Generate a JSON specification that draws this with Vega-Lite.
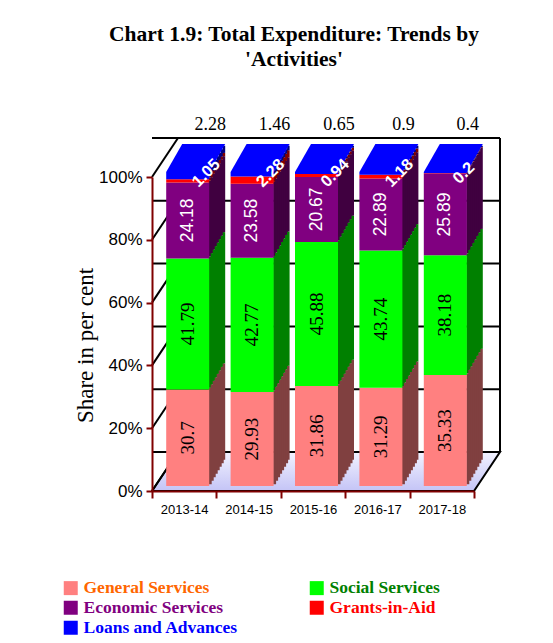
{
  "$schema": "https://vega.github.io/schema/vega-lite/v6.json",
  "width": 322,
  "height": 314,
  "autosize": "none",
  "padding": {"left": 152, "top": 177, "right": 79, "bottom": 152},
  "background": "white",
  "title": {
    "text": ["Chart 1.9: Total Expenditure: Trends by", "'Activities'"],
    "font": "Liberation Serif",
    "fontSize": 21.5,
    "fontWeight": "bold",
    "color": "black",
    "anchor": "middle",
    "frame": "group",
    "dx": -19,
    "offset": 46,
    "lineHeight": 25
  },
  "config": {
    "view": {"stroke": null},
    "axis": {"zindex": 1}
  },
  "resolve": {"scale": {"color": "independent"}},
  "layer": [
    {
      "data": {"values": [{}]},
      "mark": {
        "type": "point",
        "shape": "M-161 0L161 0L187 -39L-135 -39Z",
        "size": 4,
        "filled": true,
        "opacity": 1,
        "fill": {"gradient": "linear", "x1": 0, "y1": 1, "x2": 0, "y2": 0,
                 "stops": [{"offset": 0, "color": "#c4c4f6"}, {"offset": 1, "color": "#f2f2ff"}]},
        "stroke": "black",
        "strokeWidth": 2
      },
      "encoding": {
        "x": {"datum": "2015-16", "type": "nominal"},
        "y": {"datum": 0, "type": "quantitative"}
      }
    },
    {
      "data": {"values": [{"g": 0}, {"g": 20}, {"g": 40}, {"g": 60}, {"g": 80}, {"g": 100}]},
      "mark": {"type": "rule", "color": "black", "strokeWidth": 2, "xOffset": 26, "x2Offset": 26, "yOffset": -39},
      "encoding": {
        "y": {"field": "g", "type": "quantitative"}
      }
    },
    {
      "data": {"values": [{"g": 0}, {"g": 20}, {"g": 40}, {"g": 60}, {"g": 80}, {"g": 100}]},
      "mark": {"type": "point", "shape": "M0 0L26 -39", "size": 4, "filled": false, "opacity": 1, "stroke": "black", "strokeWidth": 2},
      "encoding": {
        "x": {"datum": "2013-14", "type": "nominal", "bandPosition": 0},
        "y": {"field": "g", "type": "quantitative"}
      }
    },
    {
      "data": {"values": [{}]},
      "mark": {"type": "rule", "color": "black", "strokeWidth": 2, "xOffset": 26, "yOffset": -39, "y2Offset": -39},
      "encoding": {
        "x": {"datum": "2017-18", "type": "nominal", "bandPosition": 1},
        "y": {"datum": 0, "type": "quantitative"},
        "y2": {"datum": 100}
      }
    },
    {
      "data": {
        "values": [
          {"year": "2013-14", "cat": "General Services", "ord": 1, "value": 30.7},
          {"year": "2013-14", "cat": "Social Services", "ord": 2, "value": 41.79},
          {"year": "2013-14", "cat": "Economic Services", "ord": 3, "value": 24.18},
          {"year": "2013-14", "cat": "Grants-in-Aid", "ord": 4, "value": 1.05},
          {"year": "2013-14", "cat": "Loans and Advances", "ord": 5, "value": 2.28},
          {"year": "2014-15", "cat": "General Services", "ord": 1, "value": 29.93},
          {"year": "2014-15", "cat": "Social Services", "ord": 2, "value": 42.77},
          {"year": "2014-15", "cat": "Economic Services", "ord": 3, "value": 23.58},
          {"year": "2014-15", "cat": "Grants-in-Aid", "ord": 4, "value": 2.28},
          {"year": "2014-15", "cat": "Loans and Advances", "ord": 5, "value": 1.46},
          {"year": "2015-16", "cat": "General Services", "ord": 1, "value": 31.86},
          {"year": "2015-16", "cat": "Social Services", "ord": 2, "value": 45.88},
          {"year": "2015-16", "cat": "Economic Services", "ord": 3, "value": 20.67},
          {"year": "2015-16", "cat": "Grants-in-Aid", "ord": 4, "value": 0.94},
          {"year": "2015-16", "cat": "Loans and Advances", "ord": 5, "value": 0.65},
          {"year": "2016-17", "cat": "General Services", "ord": 1, "value": 31.29},
          {"year": "2016-17", "cat": "Social Services", "ord": 2, "value": 43.74},
          {"year": "2016-17", "cat": "Economic Services", "ord": 3, "value": 22.89},
          {"year": "2016-17", "cat": "Grants-in-Aid", "ord": 4, "value": 1.18},
          {"year": "2016-17", "cat": "Loans and Advances", "ord": 5, "value": 0.9},
          {"year": "2017-18", "cat": "General Services", "ord": 1, "value": 35.33},
          {"year": "2017-18", "cat": "Social Services", "ord": 2, "value": 38.18},
          {"year": "2017-18", "cat": "Economic Services", "ord": 3, "value": 25.89},
          {"year": "2017-18", "cat": "Grants-in-Aid", "ord": 4, "value": 0.2},
          {"year": "2017-18", "cat": "Loans and Advances", "ord": 5, "value": 0.4}
        ]
      },
      "transform": [
        {"stack": "value", "groupby": ["year"], "sort": [{"field": "ord", "order": "ascending"}], "as": ["y0", "y1"]},
        {"calculate": "(datum.y0 + datum.y1) / 2", "as": "ym"}
      ],
      "resolve": {"scale": {"color": "independent"}},
      "encoding": {
        "x": {
          "field": "year", "type": "nominal",
          "scale": {"paddingInner": 0, "paddingOuter": 0},
          "axis": {
            "title": null, "labelAngle": 0, "labelFont": "Liberation Sans", "labelFontSize": 13, "labelColor": "black",
            "labelPadding": 11, "domainColor": "#800000", "domainWidth": 2, "tickColor": "#800000", "tickWidth": 2,
            "tickSize": 7, "bandPosition": 0.5, "tickBand": "extent", "labelAlign": "center", "zindex": 1
          }
        }
      },
      "layer": [
        {
          "mark": {"type": "bar", "width": 3, "xOffset": 26, "yOffset": -6.75, "y2Offset": -6.75},
          "encoding": {
            "y": {"field": "y0", "type": "quantitative", "scale": {"domain": [0, 100]},
                  "axis": {"values": [0, 20, 40, 60, 80, 100], "labelExpr": "datum.value + '%'", "title": "Share in per cent",
                           "titleFont": "Liberation Serif", "titleFontSize": 23, "titleFontWeight": "normal", "titleColor": "black",
                           "titlePadding": 1, "titleY": 168, "labelFont": "Liberation Sans", "labelFontSize": 17, "labelColor": "black",
                           "labelPadding": 4, "domainColor": "#800000", "domainWidth": 2, "tickColor": "#800000",
                           "tickWidth": 2, "tickSize": 6, "grid": false, "zindex": 1}},
            "y2": {"field": "y1"},
            "color": {"field": "cat", "type": "nominal", "legend": null,
                      "scale": {"domain": ["General Services", "Social Services", "Economic Services", "Grants-in-Aid", "Loans and Advances"],
                                "range": ["#804040", "#008000", "#400040", "#800000", "#000080"]}}
          }
        },
        {
          "mark": {"type": "bar", "width": 3, "xOffset": 28, "yOffset": -10.25, "y2Offset": -10.25},
          "encoding": {
            "y": {"field": "y0", "type": "quantitative"}, "y2": {"field": "y1"},
            "color": {"field": "cat", "type": "nominal", "legend": null,
                      "scale": {"domain": ["General Services", "Social Services", "Economic Services", "Grants-in-Aid", "Loans and Advances"],
                                "range": ["#804040", "#008000", "#400040", "#800000", "#000080"]}}
          }
        },
        {
          "mark": {"type": "bar", "width": 3, "xOffset": 30, "yOffset": -13.75, "y2Offset": -13.75},
          "encoding": {
            "y": {"field": "y0", "type": "quantitative"}, "y2": {"field": "y1"},
            "color": {"field": "cat", "type": "nominal", "legend": null,
                      "scale": {"domain": ["General Services", "Social Services", "Economic Services", "Grants-in-Aid", "Loans and Advances"],
                                "range": ["#804040", "#008000", "#400040", "#800000", "#000080"]}}
          }
        },
        {
          "mark": {"type": "bar", "width": 3, "xOffset": 32, "yOffset": -17.25, "y2Offset": -17.25},
          "encoding": {
            "y": {"field": "y0", "type": "quantitative"}, "y2": {"field": "y1"},
            "color": {"field": "cat", "type": "nominal", "legend": null,
                      "scale": {"domain": ["General Services", "Social Services", "Economic Services", "Grants-in-Aid", "Loans and Advances"],
                                "range": ["#804040", "#008000", "#400040", "#800000", "#000080"]}}
          }
        },
        {
          "mark": {"type": "bar", "width": 3, "xOffset": 34, "yOffset": -20.75, "y2Offset": -20.75},
          "encoding": {
            "y": {"field": "y0", "type": "quantitative"}, "y2": {"field": "y1"},
            "color": {"field": "cat", "type": "nominal", "legend": null,
                      "scale": {"domain": ["General Services", "Social Services", "Economic Services", "Grants-in-Aid", "Loans and Advances"],
                                "range": ["#804040", "#008000", "#400040", "#800000", "#000080"]}}
          }
        },
        {
          "mark": {"type": "bar", "width": 3, "xOffset": 36, "yOffset": -24.25, "y2Offset": -24.25},
          "encoding": {
            "y": {"field": "y0", "type": "quantitative"}, "y2": {"field": "y1"},
            "color": {"field": "cat", "type": "nominal", "legend": null,
                      "scale": {"domain": ["General Services", "Social Services", "Economic Services", "Grants-in-Aid", "Loans and Advances"],
                                "range": ["#804040", "#008000", "#400040", "#800000", "#000080"]}}
          }
        },
        {
          "mark": {"type": "bar", "width": 3, "xOffset": 38, "yOffset": -27.75, "y2Offset": -27.75},
          "encoding": {
            "y": {"field": "y0", "type": "quantitative"}, "y2": {"field": "y1"},
            "color": {"field": "cat", "type": "nominal", "legend": null,
                      "scale": {"domain": ["General Services", "Social Services", "Economic Services", "Grants-in-Aid", "Loans and Advances"],
                                "range": ["#804040", "#008000", "#400040", "#800000", "#000080"]}}
          }
        },
        {
          "mark": {"type": "bar", "width": 2.5, "xOffset": 39.75, "yOffset": -31.25, "y2Offset": -31.25},
          "encoding": {
            "y": {"field": "y0", "type": "quantitative"}, "y2": {"field": "y1"},
            "color": {"field": "cat", "type": "nominal", "legend": null,
                      "scale": {"domain": ["General Services", "Social Services", "Economic Services", "Grants-in-Aid", "Loans and Advances"],
                                "range": ["#804040", "#008000", "#400040", "#800000", "#000080"]}}
          }
        },
        {
          "transform": [{"filter": "datum.cat == 'Loans and Advances'"}],
          "mark": {"type": "point", "shape": "M-21.5 0L21.5 0L37.5 -28L-5.5 -28Z", "size": 4, "filled": true,
                   "opacity": 1, "fill": "#0000ff", "strokeWidth": 0, "xOffset": 3.5, "yOffset": -5},
          "encoding": {
            "y": {"field": "y1", "type": "quantitative"}
          }
        },
        {
          "mark": {"type": "bar", "width": 43, "xOffset": 3.5, "yOffset": -5, "y2Offset": -5},
          "encoding": {
            "y": {"field": "y0", "type": "quantitative"}, "y2": {"field": "y1"},
            "color": {"field": "cat", "type": "nominal",
                      "scale": {"domain": ["General Services", "Social Services", "Economic Services", "Grants-in-Aid", "Loans and Advances"],
                                "range": ["#ff8080", "#00ff00", "#800080", "#ff0000", "#0000ff"]},
                      "legend": {
                        "title": null, "orient": "none", "legendX": -90, "legendY": 402,
                        "direction": "horizontal", "columns": 2, "columnPadding": 69,
                        "rowPadding": 1, "symbolType": "square", "symbolSize": 196, "symbolStrokeWidth": 0,
                        "labelFont": "Liberation Serif", "labelFontSize": 17.5, "labelFontWeight": "bold", "labelOffset": 4,
                        "labelLimit": 300, "padding": 0,
                        "encode": {"labels": {"update": {"fill": {"signal": "datum.value == 'General Services' ? '#ff6600' : datum.value == 'Social Services' ? '#008000' : datum.value == 'Economic Services' ? '#800080' : datum.value == 'Grants-in-Aid' ? '#ff0000' : '#0000ff'"}}}}
                      }}
          }
        },
        {
          "transform": [{"filter": "datum.ord <= 2"}],
          "mark": {"type": "text", "angle": 270, "font": "Liberation Serif", "fontSize": 19, "color": "black", "xOffset": 3.5, "yOffset": -5, "baseline": "middle", "align": "center"},
          "encoding": {
            "y": {"field": "ym", "type": "quantitative"},
            "text": {"field": "value", "type": "quantitative"}
          }
        },
        {
          "transform": [{"filter": "datum.ord == 3"}],
          "mark": {"type": "text", "angle": 270, "font": "Liberation Sans", "fontSize": 17.5, "color": "white", "xOffset": 3.5, "yOffset": -5, "baseline": "middle", "align": "center"},
          "encoding": {
            "y": {"field": "ym", "type": "quantitative"},
            "text": {"field": "value", "type": "quantitative"}
          }
        },
        {
          "transform": [{"filter": "datum.ord == 4"}],
          "mark": {"type": "text", "angle": 315, "font": "Liberation Sans", "fontSize": 16.5, "fontWeight": "bold", "color": "white", "xOffset": 22, "yOffset": -4, "baseline": "middle", "align": "center"},
          "encoding": {
            "y": {"datum": 100, "type": "quantitative"},
            "text": {"field": "value", "type": "quantitative"}
          }
        },
        {
          "transform": [{"filter": "datum.ord == 5"}],
          "mark": {"type": "text", "font": "Liberation Serif", "fontSize": 18, "color": "black", "xOffset": 26, "yOffset": -52, "baseline": "middle", "align": "center"},
          "encoding": {
            "y": {"datum": 100, "type": "quantitative"},
            "text": {"field": "value", "type": "quantitative"}
          }
        }
      ]
    }
  ]
}
